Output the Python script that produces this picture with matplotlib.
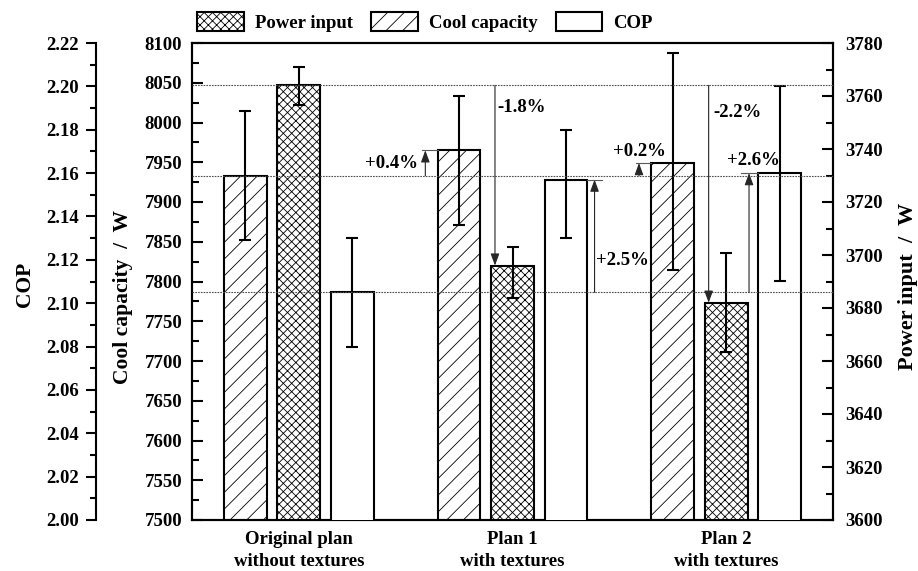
import matplotlib
matplotlib.use('Agg')
import matplotlib.pyplot as plt
import matplotlib.transforms as mtransforms
from matplotlib.ticker import MultipleLocator, FormatStrFormatter
import numpy as np

plt.rcParams['font.family'] = ['Liberation Serif', 'DejaVu Serif']
plt.rcParams['font.weight'] = 'bold'
plt.rcParams['axes.labelweight'] = 'bold'
plt.rcParams['font.size'] = 13.5
plt.rcParams['hatch.linewidth'] = 0.6
plt.rcParams['axes.linewidth'] = 1.5

# ---------------- data ----------------
categories = ['Original plan\nwithout textures', 'Plan 1\nwith textures', 'Plan 2\nwith textures']
cool = [7933, 7965, 7949]
cool_err_lo = [81, 94, 135]
cool_err_hi = [82, 68, 138]
power = [3764, 3696, 3682]
power_err_lo = [7.3, 12.3, 18.5]
power_err_hi = [6.9, 7.2, 18.8]
cop = [2.105, 2.157, 2.160]
cop_err_lo = [0.025, 0.027, 0.050]
cop_err_hi = [0.025, 0.023, 0.040]
legend_labels = ['Power input', 'Cool capacity', 'COP']
changes = {'cool': ['+0.4%', '+0.2%'], 'power': ['-1.8%', '-2.2%'], 'cop': ['+2.5%', '+2.6%']}

cool_lim = (7500, 8100)
power_lim = (3600, 3780)
cop_lim = (2.00, 2.22)

# ---------------- figure ----------------
W, H = 918, 571
fig = plt.figure(figsize=(W / 100, H / 100), dpi=100)
ax = fig.add_axes([192 / W, 1 - 520 / H, (833 - 192) / W, (520 - 43) / H])
ax_p = ax.twinx()
ax_c = ax.twinx()

x = np.arange(len(categories))
w = 0.2
off = 0.25
edge = dict(edgecolor='k', linewidth=1.5)
ebar = dict(fmt='none', ecolor='k', elinewidth=1.5, capsize=4.3, capthick=1.5, zorder=4)

b_cool = ax.bar(x - off, cool, w, facecolor='white', hatch='//', zorder=2, **edge)
ax.errorbar(x - off, cool, yerr=[cool_err_lo, cool_err_hi], **ebar)
b_pow = ax_p.bar(x, power, w, facecolor='white', hatch='xxxx', zorder=2, **edge)
ax_p.errorbar(x, power, yerr=[power_err_lo, power_err_hi], **ebar)
b_cop = ax_c.bar(x + off, cop, w, facecolor='white', zorder=2, **edge)
ax_c.errorbar(x + off, cop, yerr=[cop_err_lo, cop_err_hi], **ebar)

ax.set_xlim(-0.5, 2.5)
ax.set_ylim(*cool_lim)
ax_p.set_ylim(*power_lim)
ax_c.set_ylim(*cop_lim)

# cool capacity axis (main left spine, ticks inward)
ax.yaxis.set_major_locator(MultipleLocator(50))
ax.yaxis.set_minor_locator(MultipleLocator(25))
ax.tick_params(axis='y', which='major', direction='in', length=8, width=1.5, pad=7, labelsize=13.5)
ax.tick_params(axis='y', which='minor', direction='in', length=5, width=1.5)
ax.tick_params(axis='y', which='both', left=True, right=False)
ax.set_xticks(x, categories)
ax.tick_params(axis='x', length=0, pad=8, labelsize=13.5)
for lab in ax.get_xticklabels():
    lab.set_linespacing(1.4)
ax.set_ylabel('Cool capacity  /  W', fontsize=15.5, fontweight='bold')
ax.yaxis.set_label_coords(-0.092, 0.4675)

# power axis (right, ticks inward)
ax_p.yaxis.set_major_locator(MultipleLocator(20))
ax_p.yaxis.set_minor_locator(MultipleLocator(10))
ax_p.tick_params(axis='y', which='major', direction='in', length=8, width=1.5, pad=8.6, labelsize=13.5)
ax_p.tick_params(axis='y', which='minor', direction='in', length=5, width=1.5)
ax_p.set_ylabel('Power input  /  W', fontsize=16, fontweight='bold')
ax_p.yaxis.set_label_coords(1.1015, 0.4906)

# COP axis (offset left spine, ticks outward)
for s in ['right', 'top', 'bottom']:
    ax_c.spines[s].set_visible(False)
ax_c.spines['left'].set_visible(True)
ax_c.spines['left'].set_position(('outward', 69.1))
ax_c.yaxis.set_ticks_position('left')
ax_c.yaxis.set_label_position('left')
ax_c.yaxis.set_major_locator(MultipleLocator(0.02))
ax_c.yaxis.set_minor_locator(MultipleLocator(0.01))
ax_c.yaxis.set_major_formatter(FormatStrFormatter('%.2f'))
ax_c.tick_params(axis='y', which='major', direction='out', length=7.5, width=1.5, pad=5, labelsize=13.5)
ax_c.tick_params(axis='y', which='minor', direction='out', length=4, width=1.5)
ax_c.set_ylabel('COP', fontsize=15.5, fontweight='bold')
ax_c.yaxis.set_label_coords(-0.245, 0.495)

# ---------------- reference lines & annotations (drawn on top axes) ----------------
ref_style = dict(color='0.3', linewidth=0.8, linestyle=(0, (1.5, 1.0)), zorder=6)
for src, val in [(ax_p, power[0]), (ax, cool[0]), (ax_c, cop[0])]:
    tr = mtransforms.blended_transform_factory(ax_c.transAxes, src.transData)
    ax_c.plot([0, 1], [val, val], transform=tr, **ref_style)

arrow_props = dict(arrowstyle='-|>,head_length=0.6,head_width=0.22', color='0.15',
                   lw=0.8, mutation_scale=12, shrinkA=0, shrinkB=0)
thin = dict(color='0.35', linewidth=0.8, zorder=7)


def arrow(src, xa, y0, y1):
    ax_c.annotate('', xy=(xa, y1), xytext=(xa, y0), xycoords=src.transData,
                  textcoords=src.transData, arrowprops=arrow_props, zorder=7)


def label(s, xt, yt, ha):
    ax_c.text(xt, yt, s, transform=ax.transData, ha=ha, va='center', fontsize=13.5, zorder=8)


# cool capacity increases (arrow left of the cool bar)
for g in [1, 2]:
    left_edge = g - off - w / 2
    xa = left_edge - 0.058
    arrow(ax, xa, cool[0], cool[g])
    ax_c.plot([xa - 0.016, left_edge], [cool[g], cool[g]], transform=ax.transData, **thin)
label(changes['cool'][0], 0.556, 7948, 'right')
label(changes['cool'][1], 1.593, 7963, 'center')

# power decreases (line from the first power level down to the bar top)
for g in [1, 2]:
    xa = g - w / 2 + 0.018
    arrow(ax_p, xa, power[0], power[g])
label(changes['power'][0], 0.93, 8019, 'left')
label(changes['power'][1], 1.942, 8012, 'left')

# COP increases
xa = 1 + off + w / 2 + 0.034
arrow(ax_c, xa, cop[0], cop[1])
ax_c.plot([1 + off + w / 2, xa + 0.033], [cop[1], cop[1]], transform=ax_c.transData, **thin)
xa = 2 + off - w / 2 - 0.043
arrow(ax_c, xa, cop[0], cop[2])
ax_c.plot([xa - 0.036, 2 + off - w / 2], [cop[2], cop[2]], transform=ax_c.transData, **thin)
label(changes['cop'][0], 1.39, 7827, 'left')
label(changes['cop'][1], 2.128, 7952, 'center')

# ---------------- legend ----------------
fig.legend([b_pow, b_cool, b_cop], legend_labels, loc='center left',
           bbox_to_anchor=(197 / W, 1 - 22 / H), ncol=3, frameon=False,
           handlelength=2.5, handleheight=1.15, handletextpad=0.6,
           columnspacing=0.95, borderpad=0, borderaxespad=0, fontsize=13.5)

fig.savefig('out.png', dpi=100)
